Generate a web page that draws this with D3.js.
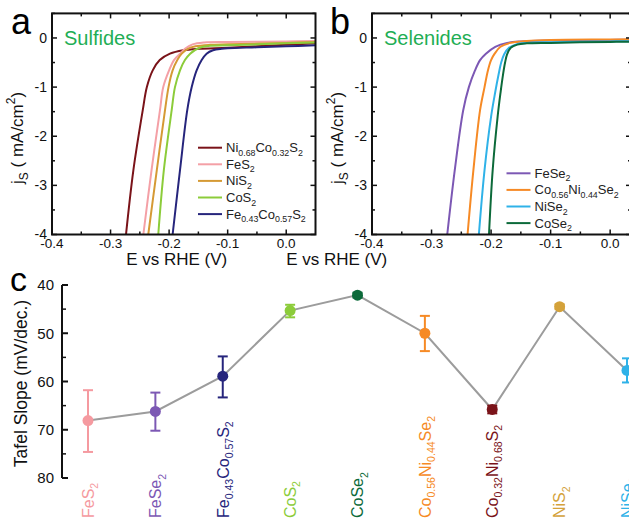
<!DOCTYPE html>
<html><head><meta charset="utf-8">
<script src="https://cdn.jsdelivr.net/npm/d3@7"></script>
<style>
body{margin:0;background:#fff}
svg{display:block}
text{font-family:"Liberation Sans",Arial,Helvetica,sans-serif}
</style>
</head><body>
<svg id="chart" width="629" height="520"></svg>
<script>
// ---------- Panel a: sulfides (E vs RHE in V, js in mA/cm2) ----------
const sulfideNames = ["Ni_{0.68}Co_{0.32}S_{2}", "FeS_{2}", "NiS_{2}", "CoS_{2}", "Fe_{0.43}Co_{0.57}S_{2}"];
const sulfideColors = ["#7a1319", "#f4a0a6", "#d59a35", "#8ccc3a", "#26257c"];
const eNi068Co032S2 = [-0.2736, -0.261, -0.245, -0.238, -0.228, -0.216, -0.1985, -0.176, -0.15, -0.1, -0.05, 0, 0.05];
const jNi068Co032S2 = [-4, -2.69, -1.47, -1.0, -0.66, -0.45, -0.32, -0.25, -0.22, -0.2, -0.17, -0.14, -0.11];
const eFeS2 = [-0.244, -0.23, -0.2156, -0.21, -0.2, -0.1917, -0.1814, -0.173, -0.16, -0.14, -0.1, 0, 0.05];
const jFeS2 = [-4, -2.69, -1.47, -1.0, -0.66, -0.45, -0.32, -0.22, -0.13, -0.09, -0.08, -0.07, -0.06];
const eNiS2 = [-0.2356, -0.221, -0.207, -0.201, -0.194, -0.186, -0.1785, -0.168, -0.155, -0.13, -0.1, 0, 0.05];
const jNiS2 = [-4, -2.69, -1.47, -1.0, -0.66, -0.45, -0.32, -0.22, -0.17, -0.14, -0.13, -0.1, -0.08];
const eCoS2 = [-0.2185, -0.209, -0.1956, -0.19, -0.1814, -0.173, -0.164, -0.15, -0.13, -0.1, 0, 0.05];
const jCoS2 = [-4, -2.69, -1.47, -1.0, -0.66, -0.45, -0.32, -0.21, -0.16, -0.15, -0.11, -0.09];
const eFe043Co057S2 = [-0.194, -0.1814, -0.169, -0.1614, -0.153, -0.1444, -0.136, -0.125, -0.11, -0.1, -0.05, 0, 0.05];
const jFe043Co057S2 = [-4, -2.69, -1.47, -1.0, -0.66, -0.45, -0.32, -0.25, -0.22, -0.21, -0.19, -0.17, -0.15];
const sulfideE = [eNi068Co032S2, eFeS2, eNiS2, eCoS2, eFe043Co057S2];
const sulfideJ = [jNi068Co032S2, jFeS2, jNiS2, jCoS2, jFe043Co057S2];

// ---------- Panel b: selenides ----------
const selenideNames = ["FeSe_{2}", "Co_{0.56}Ni_{0.44}Se_{2}", "NiSe_{2}", "CoSe_{2}"];
const selenideColors = ["#7c58b4", "#f68a25", "#2fb2e8", "#0c6a3a"];
const eFeSe2 = [-0.2736, -0.261, -0.2468, -0.2373, -0.227, -0.2185, -0.2087, -0.193, -0.173, -0.15, -0.1, 0, 0.035];
const jFeSe2 = [-4, -2.69, -1.47, -1.0, -0.66, -0.45, -0.32, -0.18, -0.1, -0.07, -0.05, -0.04, -0.035];
const eCo056Ni044Se2 = [-0.2395, -0.2297, -0.2185, -0.211, -0.2053, -0.2, -0.194, -0.1843, -0.168, -0.14, -0.1, 0, 0.035];
const jCo056Ni044Se2 = [-4, -2.69, -1.47, -1.0, -0.66, -0.45, -0.32, -0.18, -0.1, -0.06, -0.04, -0.03, -0.025];
const eNiSe2 = [-0.2205, -0.211, -0.2, -0.193, -0.1875, -0.183, -0.178, -0.17, -0.158, -0.14, -0.1, 0, 0.035];
const jNiSe2 = [-4, -2.69, -1.6, -1.1, -0.75, -0.5, -0.33, -0.2, -0.13, -0.1, -0.085, -0.07, -0.065];
const eCoSe2 = [-0.2035, -0.1973, -0.189, -0.184, -0.18, -0.1765, -0.173, -0.167, -0.156, -0.14, -0.1, 0, 0.035];
const jCoSe2 = [-4, -2.69, -1.6, -1.1, -0.75, -0.5, -0.33, -0.2, -0.135, -0.11, -0.1, -0.08, -0.075];
const selenideE = [eFeSe2, eCo056Ni044Se2, eNiSe2, eCoSe2];
const selenideJ = [jFeSe2, jCo056Ni044Se2, jNiSe2, jCoSe2];

// ---------- Panel c: Tafel slopes ----------
const tafelCategories = ["FeS_{2}", "FeSe_{2}", "Fe_{0.43}Co_{0.57}S_{2}", "CoS_{2}", "CoSe_{2}",
  "Co_{0.56}Ni_{0.44}Se_{2}", "Co_{0.32}Ni_{0.68}S_{2}", "NiS_{2}", "NiSe_{2}"];
const tafelValues = [68.1, 66.2, 58.9, 45.3, 42.1, 50.0, 65.8, 44.5, 57.7];
const tafelErrLow = [61.8, 62.3, 54.8, 44.1, 41.6, 46.4, 65.0, 44.0, 55.2];
const tafelErrHigh = [74.6, 70.2, 63.3, 46.7, 42.6, 53.7, 66.6, 45.0, 60.2];
const tafelColors = ["#f59aa0", "#7c58b4", "#26257c", "#8ccc3a", "#0c6a3a", "#f68a25", "#7a1319", "#d4a23a", "#2fb2e8"];

// ---------- Axis ticks ----------
const jMajorTicks = [0, -1, -2, -3, -4];
const jMinorTicks = [0.5, -0.5, -1.5, -2.5, -3.5];
const eMajorTicks = [-0.4, -0.3, -0.2, -0.1, 0.0];
const eMinorTicks = [-0.35, -0.25, -0.15, -0.05];
const tafelMajorTicks = [40, 50, 60, 70, 80];
const tafelMinorTicks = [45, 55, 65, 75];

const svg = d3.select("#chart");

// rich text: _{...} subscript, ^{...} superscript
function rich(textSel, str, subScale) {
  subScale = subScale || 0.66;
  const re = /(_\{[^}]*\}|\^\{[^}]*\})/g;
  const parts = str.split(re).filter(s => s.length);
  let offset = 0;
  parts.forEach(p => {
    let kind = "n", content = p;
    if (p.startsWith("_{")) { kind = "sub"; content = p.slice(2, -1); }
    else if (p.startsWith("^{")) { kind = "sup"; content = p.slice(2, -1); }
    const target = kind === "sub" ? 0.28 : kind === "sup" ? -0.45 : 0;
    const ts = textSel.append("tspan").text(content);
    const fs = parseFloat(textSel.attr("font-size"));
    const dy = (target - offset) * fs;
    if (dy !== 0) ts.attr("dy", dy);
    offset = target;
    if (kind !== "n") ts.attr("font-size", fs * subScale);
  });
}

function drawPanel(opt) {
  const { x, y, Es, Js, colors, names, legendX, legendY, title, letter, letterX, clipId } = opt;
  const g = svg.append("g");
  const [x0, x1] = x.range();
  const [y0, y1] = y.range(); // y0 bottom, y1 top
  svg.append("clipPath").attr("id", clipId).append("rect")
    .attr("x", x0).attr("y", y1).attr("width", x1 - x0).attr("height", y0 - y1);

  // curves
  const line = d3.line().x(d => x(d[0])).y(d => y(d[1])).curve(d3.curveCatmullRom.alpha(0.5));
  const cg = g.append("g").attr("clip-path", `url(#${clipId})`);
  Es.forEach((E, i) => {
    cg.append("path").datum(E.map((e, k) => [e, Js[i][k]]))
      .attr("d", line).attr("fill", "none").attr("stroke", colors[i]).attr("stroke-width", 2);
  });

  // frame
  g.append("rect").attr("x", x0).attr("y", y1).attr("width", x1 - x0).attr("height", y0 - y1)
    .attr("fill", "none").attr("stroke", "#111").attr("stroke-width", 2);

  // ticks (inward on all sides)
  const tick = (x1_, y1_, x2_, y2_) => g.append("line").attr("x1", x1_).attr("y1", y1_).attr("x2", x2_).attr("y2", y2_)
    .attr("stroke", "#111").attr("stroke-width", 1.5);
  eMajorTicks.forEach(t => { const px = x(t); if (px <= x1) { tick(px, y0, px, y0 - 5); tick(px, y1, px, y1 + 5); } });
  eMinorTicks.forEach(t => { const px = x(t); if (px <= x1) { tick(px, y0, px, y0 - 3); tick(px, y1, px, y1 + 3); } });
  jMajorTicks.forEach(t => { const py = y(t); tick(x0, py, x0 + 5, py); tick(x1, py, x1 - 5, py); });
  jMinorTicks.forEach(t => { const py = y(t); tick(x0, py, x0 + 3, py); tick(x1, py, x1 - 3, py); });

  // tick labels
  eMajorTicks.forEach(t => {
    g.append("text").attr("x", x(t)).attr("y", y0 + 13).attr("text-anchor", "middle")
      .attr("font-size", 13.5).attr("fill", "#111").text(d3.format(".1f")(t).replace("−", "-"));
  });
  jMajorTicks.forEach(t => {
    g.append("text").attr("x", x0 - 5).attr("y", y(t)).attr("dy", "0.35em").attr("text-anchor", "end")
      .attr("font-size", 14).attr("fill", "#111").text(String(t));
  });

  // axis titles
  g.append("text").attr("x", (x0 + 315.5) / 2 - 7).attr("y", 265).attr("text-anchor", "middle")
    .attr("font-size", 17).attr("fill", "#111").text("E vs RHE (V)");
  const yl = g.append("text").attr("transform", `translate(${x0 - 29},${(y0 + y1) / 2 + 14}) rotate(-90)`)
    .attr("text-anchor", "middle").attr("font-size", 17).attr("fill", "#111");
  rich(yl, "j_{S} ( mA/cm^{2})", 0.7);

  // title & letter
  g.append("text").attr("x", x0 + 12).attr("y", 45).attr("font-size", 20).attr("fill", "#1fae55").text(title);
  g.append("text").attr("x", letterX).attr("y", 34).attr("font-size", 36).attr("fill", "#000").text(letter);

  // legend
  names.forEach((n, i) => {
    const ly = legendY + i * 16.6;
    g.append("line").attr("x1", legendX).attr("x2", legendX + 24).attr("y1", ly).attr("y2", ly)
      .attr("stroke", colors[i]).attr("stroke-width", 2);
    const t = g.append("text").attr("x", legendX + 28).attr("y", ly + 4.5).attr("font-size", 13).attr("fill", "#222");
    rich(t, n, 0.68);
  });
}

// Panel a
drawPanel({
  x: d3.scaleLinear().domain([-0.4, 0.05]).range([52, 315.5]),
  y: d3.scaleLinear().domain([-4, 0.5]).range([234.5, 13.4]),
  Es: sulfideE, Js: sulfideJ, colors: sulfideColors, names: sulfideNames,
  legendX: 198, legendY: 147.7, title: "Sulfides", letter: "a", letterX: 11, clipId: "clipA"
});
// Panel b
drawPanel({
  x: d3.scaleLinear().domain([-0.4, 0.035]).range([372, 631]),
  y: d3.scaleLinear().domain([-4, 0.5]).range([234.5, 13.4]),
  Es: selenideE, Js: selenideJ, colors: selenideColors, names: selenideNames,
  legendX: 506.5, legendY: 173.3, title: "Selenides", letter: "b", letterX: 330, clipId: "clipB"
});

// Panel c
(function () {
  const g = svg.append("g");
  const x = d3.scalePoint().domain(tafelCategories).range([88, 627]);
  const y = d3.scaleLinear().domain([40, 80]).range([285, 478]);
  const axX = 62;
  g.append("line").attr("x1", axX).attr("x2", axX).attr("y1", y(40)).attr("y2", y(80))
    .attr("stroke", "#111").attr("stroke-width", 2);
  tafelMajorTicks.forEach(t => {
    g.append("line").attr("x1", axX).attr("x2", axX + 6).attr("y1", y(t)).attr("y2", y(t)).attr("stroke", "#111").attr("stroke-width", 2);
    g.append("text").attr("x", axX - 8).attr("y", y(t)).attr("dy", "0.36em").attr("text-anchor", "end")
      .attr("font-size", 15).attr("fill", "#111").text(t);
  });
  tafelMinorTicks.forEach(t => {
    g.append("line").attr("x1", axX).attr("x2", axX + 4).attr("y1", y(t)).attr("y2", y(t)).attr("stroke", "#111").attr("stroke-width", 1.5);
  });
  g.append("text").attr("transform", `translate(21,${(y(40) + y(80)) / 2 + 2}) rotate(-90)`)
    .attr("text-anchor", "middle").attr("dy", "0.35em").attr("font-size", 17.5).attr("fill", "#111")
    .text("Tafel Slope (mV/dec.)");
  g.append("text").attr("x", 10).attr("y", 291).attr("font-size", 34).attr("fill", "#000").text("c");

  // connecting line
  const line = d3.line().x((d, i) => x(tafelCategories[i])).y(d => y(d));
  g.append("path").datum(tafelValues).attr("d", line).attr("fill", "none")
    .attr("stroke", "#9c9c9c").attr("stroke-width", 2);

  // error bars + points
  tafelCategories.forEach((c, i) => {
    const px = x(c), col = tafelColors[i];
    g.append("line").attr("x1", px).attr("x2", px).attr("y1", y(tafelErrLow[i])).attr("y2", y(tafelErrHigh[i]))
      .attr("stroke", col).attr("stroke-width", 2);
    [tafelErrLow[i], tafelErrHigh[i]].forEach(v => {
      g.append("line").attr("x1", px - 5).attr("x2", px + 5).attr("y1", y(v)).attr("y2", y(v))
        .attr("stroke", col).attr("stroke-width", 2);
    });
    g.append("circle").attr("cx", px).attr("cy", y(tafelValues[i])).attr("r", 5.5).attr("fill", col);
    const t = g.append("text").attr("transform", `translate(${px},518) rotate(-90)`)
      .attr("dy", "0.36em").attr("font-size", 16).attr("fill", col);
    rich(t, c, 0.66);
  });
})();
</script>
</body></html>
